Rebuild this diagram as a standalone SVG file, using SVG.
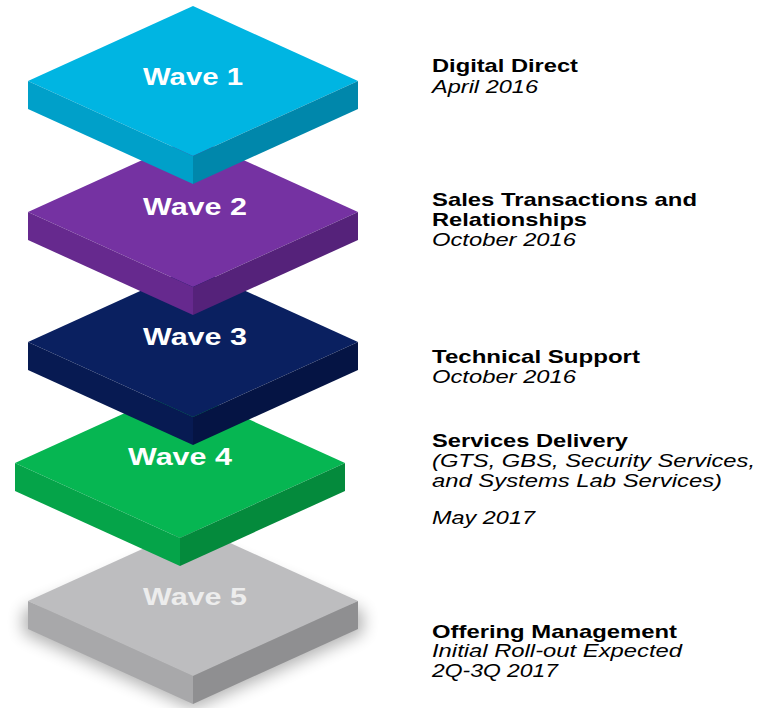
<svg xmlns="http://www.w3.org/2000/svg" xmlns:xlink="http://www.w3.org/1999/xlink" width="759" height="708" viewBox="0 0 759 708">
  <style>
    .wl { font-family: "Liberation Sans", Arial, sans-serif; font-weight: bold; font-size: 24px; fill: #ffffff; text-anchor: middle; }
    .h { font-family: "Liberation Sans", Arial, sans-serif; font-weight: bold; font-size: 19px; fill: #000000; }
    .s { font-family: "Liberation Sans", Arial, sans-serif; font-style: italic; font-size: 19px; fill: #000000; }
    .c1t { fill: #00B5E2; } .c1l { fill: #00A0C9; } .c1r { fill: #0087AB; }
    .c2t { fill: #7532A2; } .c2l { fill: #66298E; } .c2r { fill: #55227A; }
    .c3t { fill: #0A2060; } .c3l { fill: #071A52; } .c3r { fill: #051444; }
    .c4t { fill: #06B652; } .c4l { fill: #05A449; } .c4r { fill: #048A3C; }
    .c5t { fill: #BDBDBF; } .c5l { fill: #A8A8AA; } .c5r { fill: #8F8F91; }
  </style>
  <defs>
    <polygon id="top" points="0,-75 165,0 0,75 -165,0"/>
    <polygon id="left" points="-165,0 0,75 0,103 -165,28"/>
    <polygon id="right" points="0,75 165,0 165,28 0,103"/>
    <filter id="blur" x="-30%" y="-30%" width="160%" height="160%">
      <feGaussianBlur stdDeviation="8"/>
    </filter>
  </defs>

  <g id="wave5" transform="translate(193,601)">
    <polygon points="-170,10 0,-60 170,10 170,32 0,108 -170,32" fill="#000000" opacity="0.3" filter="url(#blur)"/>
    <use xlink:href="#top" class="c5t"/>
    <use xlink:href="#left" class="c5l"/>
    <use xlink:href="#right" class="c5r"/>
    <text class="wl" x="2" y="4" textLength="104" lengthAdjust="spacingAndGlyphs" style="fill:#EDEDED">Wave 5</text>
  </g>

  <g id="wave4" transform="translate(180,463)">
    <use xlink:href="#top" class="c4t"/>
    <use xlink:href="#left" class="c4l"/>
    <use xlink:href="#right" class="c4r"/>
    <text class="wl" x="0" y="2" textLength="104" lengthAdjust="spacingAndGlyphs">Wave 4</text>
  </g>

  <g id="wave3" transform="translate(193,342)">
    <use xlink:href="#top" class="c3t"/>
    <use xlink:href="#left" class="c3l"/>
    <use xlink:href="#right" class="c3r"/>
    <text class="wl" x="2" y="3" textLength="104" lengthAdjust="spacingAndGlyphs">Wave 3</text>
  </g>

  <g id="wave2" transform="translate(193,212)">
    <use xlink:href="#top" class="c2t"/>
    <use xlink:href="#left" class="c2l"/>
    <use xlink:href="#right" class="c2r"/>
    <text class="wl" x="2" y="3" textLength="104" lengthAdjust="spacingAndGlyphs">Wave 2</text>
  </g>

  <g id="wave1" transform="translate(193,81)">
    <use xlink:href="#top" class="c1t"/>
    <use xlink:href="#left" class="c1l"/>
    <use xlink:href="#right" class="c1r"/>
    <text class="wl" x="0" y="4" textLength="100" lengthAdjust="spacingAndGlyphs">Wave 1</text>
  </g>

  <g id="connectors"></g>

  <g id="label1">
    <text class="h" x="432" y="72" textLength="146" lengthAdjust="spacingAndGlyphs">Digital Direct</text>
    <text class="s" x="432" y="93" textLength="106" lengthAdjust="spacingAndGlyphs">April 2016</text>
  </g>
  <g id="label2">
    <text class="h" x="432" y="206" textLength="265" lengthAdjust="spacingAndGlyphs">Sales Transactions and</text>
    <text class="h" x="432" y="226" textLength="155" lengthAdjust="spacingAndGlyphs">Relationships</text>
    <text class="s" x="432" y="246" textLength="144" lengthAdjust="spacingAndGlyphs">October 2016</text>
  </g>
  <g id="label3">
    <text class="h" x="432" y="363" textLength="208" lengthAdjust="spacingAndGlyphs">Technical Support</text>
    <text class="s" x="432" y="383" textLength="144" lengthAdjust="spacingAndGlyphs">October 2016</text>
  </g>
  <g id="label4">
    <text class="h" x="432" y="447" textLength="196" lengthAdjust="spacingAndGlyphs">Services Delivery</text>
    <text class="s" x="432" y="467" textLength="323" lengthAdjust="spacingAndGlyphs">(GTS, GBS, Security Services,</text>
    <text class="s" x="432" y="487" textLength="290" lengthAdjust="spacingAndGlyphs">and Systems Lab Services)</text>
    <text class="s" x="432" y="524" textLength="103" lengthAdjust="spacingAndGlyphs">May 2017</text>
  </g>
  <g id="label5">
    <text class="h" x="432" y="638" textLength="245" lengthAdjust="spacingAndGlyphs">Offering Management</text>
    <text class="s" x="432" y="657" textLength="250" lengthAdjust="spacingAndGlyphs">Initial Roll-out Expected</text>
    <text class="s" x="432" y="677" textLength="126" lengthAdjust="spacingAndGlyphs">2Q-3Q 2017</text>
  </g>
</svg>
